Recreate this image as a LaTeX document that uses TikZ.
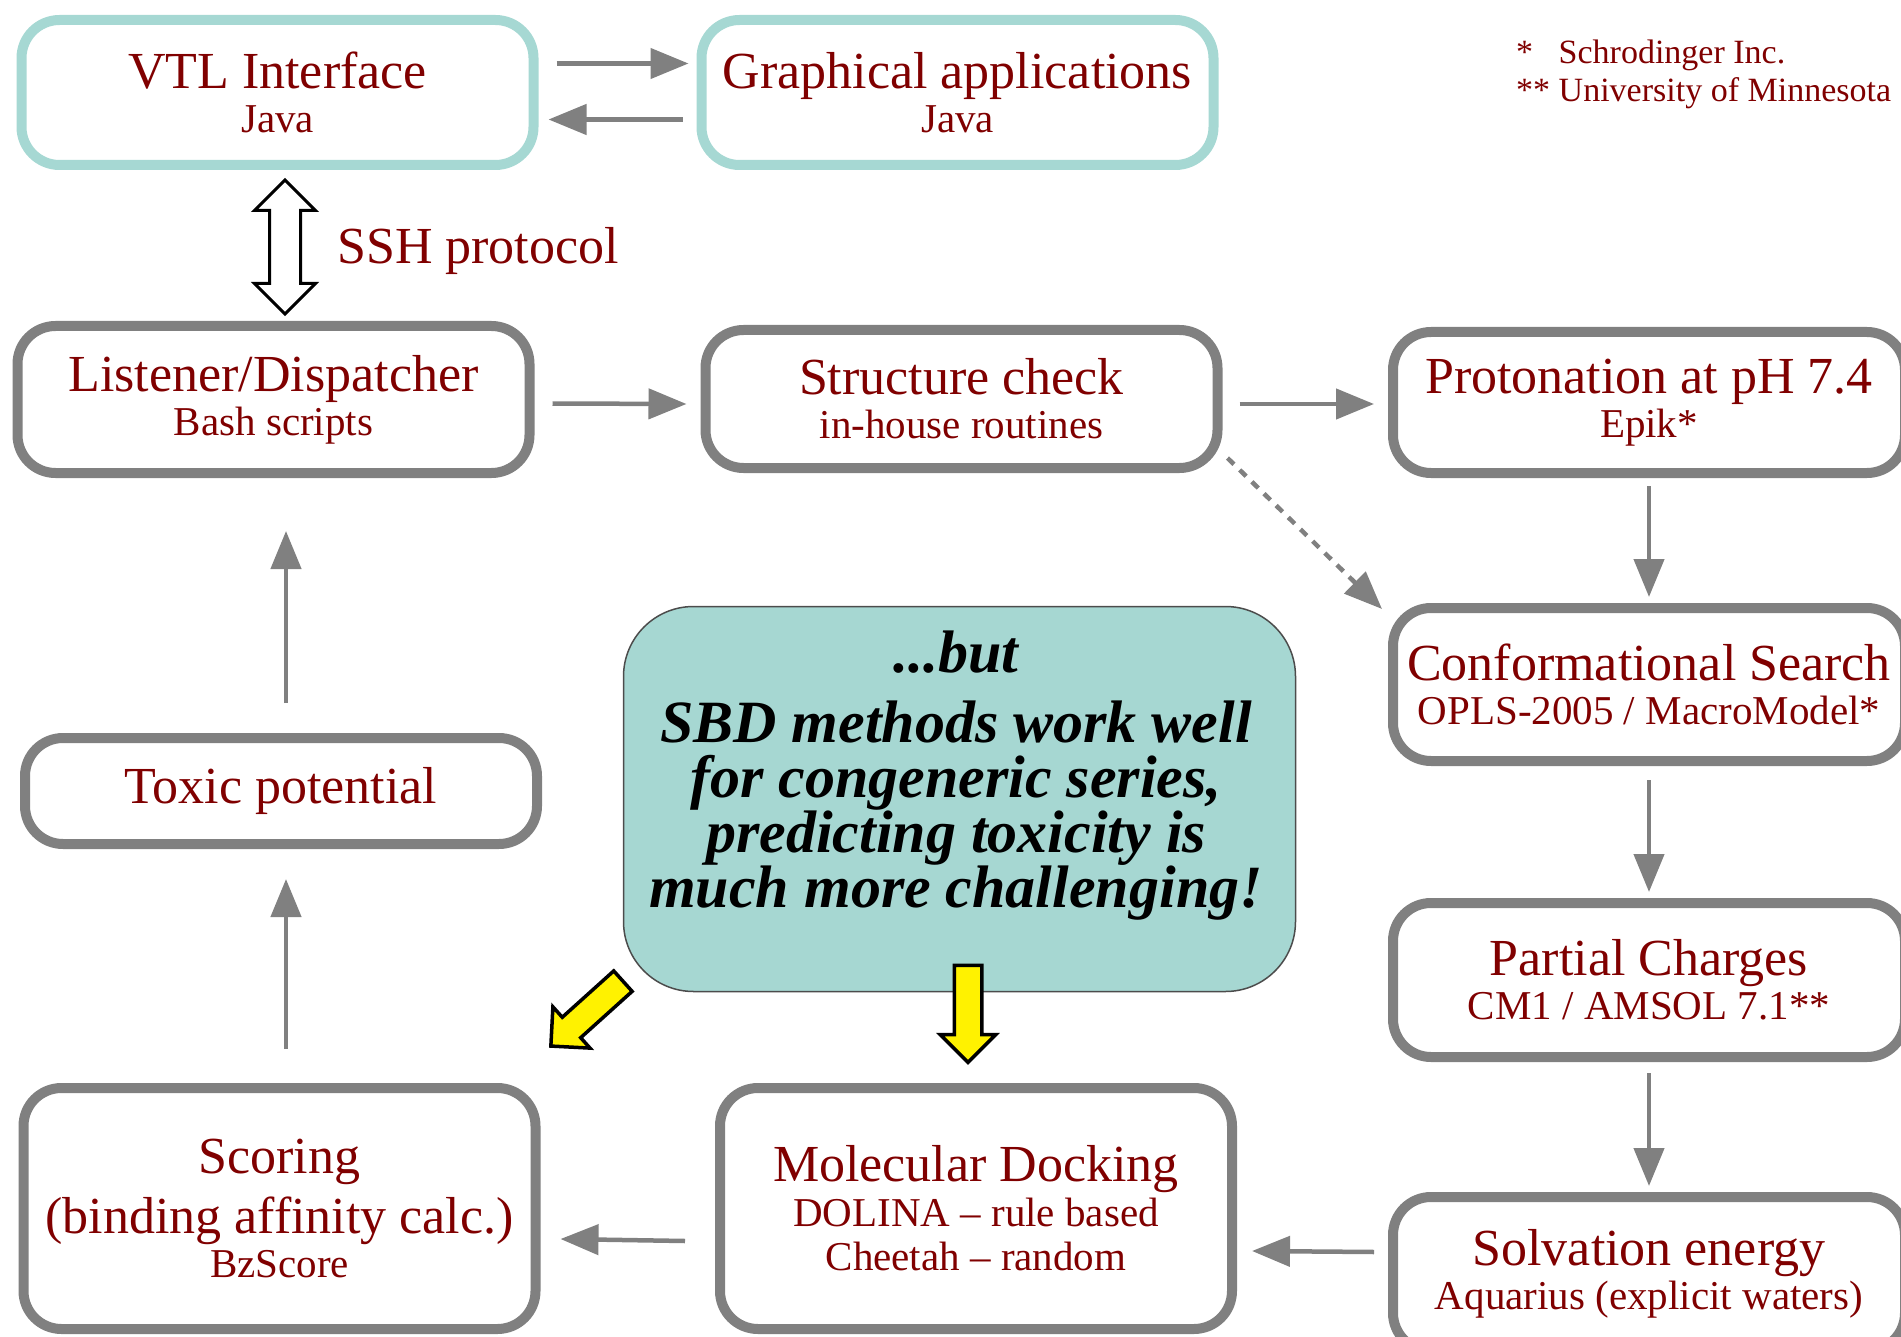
\documentclass[tikz,border=0pt]{standalone}
\usepackage{fontspec}
\setmainfont{Liberation Serif}
\usetikzlibrary{arrows.meta,positioning,calc,shapes.arrows}
\definecolor{wine}{HTML}{800000}
\definecolor{boxgray}{HTML}{808080}
\definecolor{tealline}{HTML}{A6D8D3}
\definecolor{tealfill}{HTML}{A6D7D2}

\newcommand{\ttl}[1]{{\fontsize{52}{44}\selectfont #1}}

\begin{document}
\begin{tikzpicture}[x=1pt, y=-1pt,
  stepbox/.style={rectangle, draw=boxgray, line width=10pt, fill=white, rounded corners=38pt, minimum width=512pt, minimum height=#1, align=center, text=wine, font=\fontsize{41}{44}\selectfont, inner sep=0pt, outer sep=0pt},
  uibox/.style={stepbox=145pt, draw=tealline},
  arr/.style={-{Triangle[length=38pt,width=30pt]}, line width=4.5pt, boxgray},
  hint/.style={single arrow, fill=yellow, draw=black, line width=3.5pt, minimum height=97pt, single arrow head extend=14pt, single arrow tip angle=90, inner xsep=0pt, inner ysep=12pt}
]
  \useasboundingbox (0,0) rectangle (1901,1337);

  % user side
  \node[uibox] (vtl) at (277.5,92.5) {\ttl{VTL Interface}\\Java};
  \node[uibox] (graph) at (957.5,92.5) {\ttl{Graphical applications}\\Java};
  \node[anchor=west, text=wine, font=\fontsize{34}{38}\selectfont, inner sep=0pt] (notes) at (1516,75)
    {\begin{tabular}{@{}l@{\ }l@{}}*&Schrodinger Inc.\\{*}*&University of Minnesota\end{tabular}};

  \node[double arrow, draw=black, fill=white, line width=3pt, rotate=90, minimum height=134pt, double arrow head extend=15pt, inner xsep=0pt, inner ysep=14pt] (ssh) at (285,247) {};
  \node[anchor=base west, text=wine, font=\fontsize{52}{52}\selectfont, inner sep=0pt] (sshlabel) at (337,264) {SSH protocol};

  % server pipeline
  \node[stepbox=147pt] (listener) at (273.5,399.5) {\ttl{Listener/Dispatcher}\\Bash scripts};
  \node[stepbox=138pt] (structure) at (961.5,399) {\ttl{Structure check}\\in-house routines};
  \node[stepbox=141pt] (proton) at (1649,402.5) {\ttl{Protonation at pH 7.4}\\Epik*};
  \node[stepbox=153pt] (conf) at (1649,684.5) {\ttl{Conformational Search}\\OPLS-2005 / MacroModel*};
  \node[stepbox=154pt] (partial) at (1649,980) {\ttl{Partial Charges}\\CM1 / AMSOL 7.1**};
  \node[stepbox=154pt] (solv) at (1649,1274) {\ttl{Solvation energy}\\Aquarius (explicit waters)};
  \node[stepbox=241pt] (docking) at (976,1208.5) {\ttl{Molecular Docking}\\[1pt]DOLINA -- rule based\\Cheetah -- random};
  \node[stepbox=241pt] (scoring) at (279.5,1208.5) {\ttl{Scoring}\\[11pt]\ttl{(binding affinity calc.)}\\BzScore};
  \node[stepbox=106pt] (toxic) at (281,791) {\ttl{Toxic potential}};

  % the remark
  \node[rectangle, rounded corners=70pt, fill=tealfill, draw=black!70, line width=1.5pt, minimum width=672pt, minimum height=385pt] (callout) at (959.5,799) {};
  \node[align=center, font=\fontsize{60}{55}\selectfont\bfseries\itshape] (calltext) at (956,776)
    {...but\\[15pt]SBD methods work well\\for congeneric series,\\predicting toxicity is\\much more challenging!};
  \node[hint, rotate=-90] (hintdown) at (968,1007) {};
  \node[hint, rotate=222] (hintleft) at (592,1009) {};

  \draw[arr] ($(vtl.east)+(23,-29)$) -- ($(graph.west)+(-13,-29)$);
  \draw[arr] ($(graph.west)+(-19,27)$) -- ($(vtl.east)+(15,27)$);
  \draw[arr] ($(listener.east)+(23,4)$) -- ($(structure.west)+(-19,5)$);
  \draw[arr] ($(structure.east)+(22,5)$) -- ($(proton.west)+(-19,1.5)$);
  \draw[arr, dash pattern=on 9pt off 8pt] ($(structure.south east)+(10,-10)$) -- ($(conf.north west)+(-11,1)$);
  \draw[arr] ($(proton.south)+(0,13)$) -- ($(conf.north)+(0,-11)$);
  \draw[arr] ($(conf.south)+(0,19)$) -- ($(partial.north)+(0,-11)$);
  \draw[arr] ($(partial.south)+(0,16)$) -- ($(solv.north)+(0,-11)$);
  \draw[arr] ($(solv.west)+(-19,-22)$) -- ($(docking.east)+(20,42.5)$);
  \draw[arr] ($(docking.west)+(-35,32.5)$) -- ($(scoring.east)+(25,30.5)$);
  \draw[arr] ($(scoring.north)+(6.5,-39)$) -- ($(toxic.south)+(5,35)$);
  \draw[arr] ($(toxic.north)+(5,-35)$) -- ($(listener.south)+(12.5,58)$);
\end{tikzpicture}
\end{document}
